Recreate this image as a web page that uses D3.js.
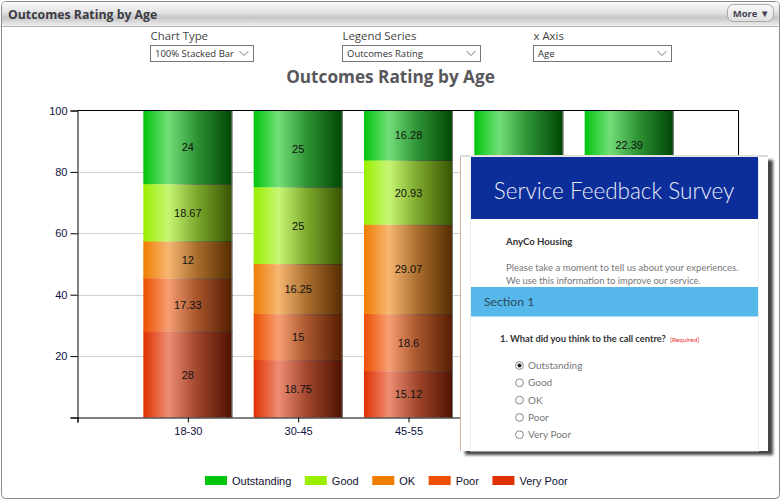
<!DOCTYPE html>
<html>
<head>
<meta charset="utf-8">
<script src="https://cdn.jsdelivr.net/npm/d3@7"></script>
<style>
    html, body { margin: 0; padding: 0; background: #fff; }
    svg { display: block; }
</style>
</head>
<body>
<div id="chart"></div>
<script>
const AGES = ['18-30', '30-45', '45-55', '55-65', '65+'];
const RATINGS = ['Very Poor', 'Poor', 'OK', 'Good', 'Outstanding'];
const LEGEND_ORDER = ['Outstanding', 'Good', 'OK', 'Poor', 'Very Poor'];
// last two columns sit behind the survey panel, so most of their values are estimates
const VERY_POOR = [28, 18.75, 15.12, 12, 14];
const POOR = [17.33, 15, 18.6, 15, 16];
const OK = [12, 16.25, 29.07, 22, 24];
const GOOD = [18.67, 25, 20.93, 19, 23.61];
const OUTSTANDING = [24, 25, 16.28, 32, 22.39];
const RATING_COLORS = ['#e03000', '#ee4f00', '#f07c00', '#9aee00', '#00c40c'];
const Y_TICKS = [0, 20, 40, 60, 80, 100];
const SURVEY_OPTIONS = ['Outstanding', 'Good', 'OK', 'Poor', 'Very Poor'];

const width = 781, height = 501;
const margin = { left: 77.5, right: 738.5, top: 110.5, bottom: 417.5 };
const panel = { x: 460, y: 155, w: 308, h: 296 };
const barWidth = 89;
const font = '"Liberation Sans", Arial, sans-serif';
const uiFont = '"Open Sans", sans-serif';
const surveyFont = 'Lato, sans-serif';

let svg = d3.select('#chart').append('svg').attr('width', width).attr('height', height);
let defs = svg.append('defs');

// one horizontal gradient per rating, the shiny bar look
RATINGS.forEach(function (r, i) {
    let base = RATING_COLORS[i];
    let grad = defs.append('linearGradient').attr('id', 'bar' + i);
    grad.append('stop').attr('offset', '0').attr('stop-color', base);
    grad.append('stop').attr('offset', '0.28').attr('stop-color', d3.interpolateRgb(base, '#fff')(0.45));
    grad.append('stop').attr('offset', '0.6').attr('stop-color', d3.interpolateRgb(d3.interpolateRgb(base, '#fff')(0.2), '#222')(0.35));
    grad.append('stop').attr('offset', '1').attr('stop-color', d3.interpolateRgb(base, '#000')(0.65));
    let edge = defs.append('linearGradient').attr('id', 'edge' + i);
    edge.append('stop').attr('offset', '0').attr('stop-color', base);
    edge.append('stop').attr('offset', '0.28').attr('stop-color', d3.interpolateRgb(base, '#fff')(0.6));
    edge.append('stop').attr('offset', '0.6').attr('stop-color', '#555');
    edge.append('stop').attr('offset', '1').attr('stop-color', '#222');
});

let headGrad = defs.append('linearGradient').attr('id', 'head').attr('x2', 0).attr('y2', 1);
headGrad.append('stop').attr('offset', '0').attr('stop-color', '#fbfbfb');
headGrad.append('stop').attr('offset', '0.45').attr('stop-color', '#e2e2e2');
headGrad.append('stop').attr('offset', '0.65').attr('stop-color', '#c6c6c6');
headGrad.append('stop').attr('offset', '1').attr('stop-color', '#efefef');

let btnGrad = defs.append('linearGradient').attr('id', 'btn').attr('x2', 0).attr('y2', 1);
btnGrad.append('stop').attr('offset', '0').attr('stop-color', '#fafafa');
btnGrad.append('stop').attr('offset', '1').attr('stop-color', '#dedede');

let shadow = defs.append('filter').attr('id', 'shadow')
    .attr('x', '-5%').attr('y', '-5%').attr('width', '112%').attr('height', '112%');
shadow.append('feGaussianBlur').attr('stdDeviation', 1.6);

// panel frame and header
svg.append('rect').attr('x', 1.5).attr('y', 1.5).attr('width', 778).attr('height', 497)
    .attr('rx', 4).attr('fill', '#fff').attr('stroke', '#8a8a8a');
svg.append('rect').attr('x', 2).attr('y', 2).attr('width', 777).attr('height', 24).attr('rx', 3)
    .attr('fill', 'url(#head)');
svg.append('line').attr('x1', 2).attr('x2', 779).attr('y1', 26.5).attr('y2', 26.5).attr('stroke', '#b4b4b4');
svg.append('text').text('Outcomes Rating by Age')
    .attr('x', 8).attr('y', 18.5)
    .attr('font-family', uiFont).attr('font-size', '12.3px').attr('font-weight', 'bold').attr('fill', '#3c3c44');

svg.append('rect').attr('x', 727.5).attr('y', 4.5).attr('width', 46).attr('height', 17).attr('rx', 6)
    .attr('fill', 'url(#btn)').attr('stroke', '#a8a8a8');
svg.append('text').text('More ▼')
    .attr('x', 751).attr('y', 17).attr('text-anchor', 'middle')
    .attr('font-family', uiFont).attr('font-size', '9.5px').attr('font-weight', 'bold').attr('fill', '#444455');

// dropdowns
const dropdowns = [
    { label: 'Chart Type', value: '100% Stacked Bar', x: 150.5, w: 103 },
    { label: 'Legend Series', value: 'Outcomes Rating', x: 342.5, w: 138 },
    { label: 'x Axis', value: 'Age', x: 533.5, w: 138 },
];
dropdowns.forEach(function (d) {
    svg.append('text').text(d.label)
        .attr('x', d.x).attr('y', 40)
        .attr('font-family', uiFont).attr('font-size', '11.4px').attr('fill', '#444');
    svg.append('rect').attr('x', d.x).attr('y', 45.5).attr('width', d.w).attr('height', 16)
        .attr('fill', '#fff').attr('stroke', '#777');
    svg.append('text').text(d.value)
        .attr('x', d.x + 4.5).attr('y', 57)
        .attr('font-family', uiFont).attr('font-size', '9.5px').attr('fill', '#333');
    svg.append('path')
        .attr('d', 'M' + (d.x + d.w - 14) + ',51 l4.5,4.5 l4.5,-4.5')
        .attr('fill', 'none').attr('stroke', '#777');
});

svg.append('text').text('Outcomes Rating by Age')
    .attr('x', 390.5).attr('y', 83).attr('text-anchor', 'middle')
    .attr('font-family', uiFont).attr('font-size', '17.2px').attr('font-weight', 'bold').attr('fill', '#58585c');

// scales: blank first and last slot leave the gap on either side of the bars
let x = d3.scalePoint().domain(['', ...AGES, ' ']).range([margin.left, margin.right + 1]);
let y = d3.scaleLinear().domain([0, 100]).range([margin.bottom, margin.top]);

// grid
svg.append('g').selectAll('line').data(Y_TICKS.slice(1, -1)).enter().append('line')
    .attr('x1', margin.left).attr('x2', margin.right)
    .attr('y1', function (d) { return Math.round(y(d)) + 0.5; })
    .attr('y2', function (d) { return Math.round(y(d)) + 0.5; })
    .attr('stroke', '#d0d0d0');

// stacked bars
let rows = AGES.map(function (age, i) {
    return {
        age: age,
        'Very Poor': VERY_POOR[i],
        'Poor': POOR[i],
        'OK': OK[i],
        'Good': GOOD[i],
        'Outstanding': OUTSTANDING[i],
    };
});
let stacked = d3.stack().keys(RATINGS)(rows);

let layers = svg.append('g').selectAll('g').data(stacked).enter().append('g');
layers.selectAll('rect').data(function (s) { return s; }).enter().append('rect')
    .attr('x', function (d) { return x(d.data.age) - barWidth / 2; })
    .attr('y', function (d) { return y(d[1]); })
    .attr('width', barWidth)
    .attr('height', function (d) { return y(d[0]) - y(d[1]); })
    .attr('fill', function () { return 'url(#bar' + RATINGS.indexOf(d3.select(this.parentNode).datum().key) + ')'; });
layers.selectAll('.edge').data(function (s) { return s; }).enter().append('rect')
    .attr('class', 'edge')
    .attr('x', function (d) { return x(d.data.age) - barWidth / 2; })
    .attr('y', function (d) { return y(d[1]) - 0.5; })
    .attr('width', barWidth)
    .attr('height', 1)
    .attr('fill', function () { return 'url(#edge' + RATINGS.indexOf(d3.select(this.parentNode).datum().key) + ')'; });
layers.selectAll('.side').data(function (s) { return s; }).enter().append('rect')
    .attr('class', 'side')
    .attr('x', function (d) { return x(d.data.age) + barWidth / 2 - 1; })
    .attr('y', function (d) { return y(d[1]); })
    .attr('width', 1)
    .attr('height', function (d) { return y(d[0]) - y(d[1]); })
    .attr('fill', '#777');

// no label for what the survey panel covers anyway
function labelVisible(d) {
    let ly = (y(d[0]) + y(d[1])) / 2;
    return !(x(d.data.age) > panel.x && ly > panel.y - 6);
}
layers.selectAll('text').data(function (s) { return s.filter(labelVisible); }).enter().append('text')
    .text(function (d) { return +(d[1] - d[0]).toFixed(2); })
    .attr('x', function (d) { return x(d.data.age); })
    .attr('y', function (d) { return (y(d[0]) + y(d[1])) / 2 + 4; })
    .attr('text-anchor', 'middle')
    .attr('font-family', font).attr('font-size', '11px').attr('fill', '#111');

// axes
let yAxis = svg.append('g').attr('transform', 'translate(' + margin.left + ',0)')
    .call(d3.axisLeft(y).tickValues(Y_TICKS).tickSize(7).tickPadding(3)
        .tickFormat(function (d) { return d === 0 ? '' : d; }));
let xAxis = svg.append('g').attr('transform', 'translate(0,' + margin.bottom + ')')
    .call(d3.axisBottom(x).tickSize(5).tickPadding(5)
        .tickFormat(function (d) { return x(d) > panel.x ? '' : d.trim(); }));
[yAxis, xAxis].forEach(function (a) {
    a.selectAll('text').attr('font-family', font).attr('font-size', '11px').attr('fill', '#101040');
    a.selectAll('line').attr('stroke', '#000');
    a.select('.domain').attr('stroke', '#000');
});
// plot box, top and right edges
svg.append('path')
    .attr('d', 'M' + margin.left + ',' + margin.top + 'H' + margin.right + 'V' + margin.bottom)
    .attr('fill', 'none').attr('stroke', '#000');

// legend, laid out from the measured text
let legendX = 205;
LEGEND_ORDER.forEach(function (name) {
    svg.append('rect').attr('x', legendX).attr('y', 476).attr('width', 22).attr('height', 9)
        .attr('fill', RATING_COLORS[RATINGS.indexOf(name)]);
    let t = svg.append('text').text(name)
        .attr('x', legendX + 27).attr('y', 485)
        .attr('font-family', font).attr('font-size', '11px').attr('fill', '#101030');
    legendX += 27 + t.node().getComputedTextLength() + 13.5;
});

// survey screenshot laid over the chart
let survey = svg.append('g');
survey.append('rect').attr('x', panel.x + 5).attr('y', panel.y + 5).attr('width', panel.w).attr('height', panel.h - 1)
    .attr('fill', '#444').attr('filter', 'url(#shadow)');
survey.append('rect').attr('x', panel.x).attr('y', panel.y).attr('width', panel.w).attr('height', panel.h).attr('fill', '#fff');
survey.append('rect').attr('x', panel.x).attr('y', panel.y).attr('width', 1).attr('height', panel.h).attr('fill', '#dcae92');
survey.append('rect').attr('x', panel.x).attr('y', panel.y).attr('width', panel.w).attr('height', 2).attr('fill', '#dcdcdc');
survey.append('rect').attr('x', 470.5).attr('y', 157).attr('width', 288).attr('height', 294)
    .attr('fill', 'none').attr('stroke', '#eeeeee');
survey.append('rect').attr('x', 471).attr('y', 157).attr('width', 287).attr('height', 62).attr('fill', '#0c2e9a');
survey.append('text').text('Service Feedback Survey')
    .attr('x', 614).attr('y', 199).attr('text-anchor', 'middle')
    .attr('font-family', surveyFont).attr('font-size', '22.5px').attr('font-weight', 300).attr('fill', '#e8ecf8');
survey.append('text').text('AnyCo Housing')
    .attr('x', 506).attr('y', 245)
    .attr('font-family', surveyFont).attr('font-size', '9.6px').attr('font-weight', 'bold').attr('fill', '#333');
survey.append('text').text('Please take a moment to tell us about your experiences.')
    .attr('x', 506).attr('y', 271)
    .attr('font-family', surveyFont).attr('font-size', '9.55px').attr('fill', '#777');
survey.append('text').text('We use this information to improve our service.')
    .attr('x', 506).attr('y', 284)
    .attr('font-family', surveyFont).attr('font-size', '9.4px').attr('fill', '#777');
survey.append('rect').attr('x', 471).attr('y', 287).attr('width', 287).attr('height', 29.5).attr('fill', '#56b8ea');
survey.append('text').text('Section 1')
    .attr('x', 484).attr('y', 306)
    .attr('font-family', surveyFont).attr('font-size', '12.2px').attr('fill', '#2c4a5c');
survey.append('text').text('1. What did you think to the call centre?')
    .attr('x', 500).attr('y', 342)
    .attr('font-family', surveyFont).attr('font-size', '9.4px').attr('font-weight', 'bold').attr('fill', '#333');
survey.append('text').text('[Required]')
    .attr('x', 670).attr('y', 342)
    .attr('font-family', surveyFont).attr('font-size', '6.5px').attr('fill', '#f03030');

let optionY = d3.scalePoint().domain(SURVEY_OPTIONS).range([365.5, 434.7]);
SURVEY_OPTIONS.forEach(function (opt, i) {
    survey.append('circle').attr('cx', 519.5).attr('cy', optionY(opt)).attr('r', 3.9)
        .attr('fill', '#fff').attr('stroke', '#888');
    if (i === 0) {
        survey.append('circle').attr('cx', 519.5).attr('cy', optionY(opt)).attr('r', 2).attr('fill', '#222');
    }
    survey.append('text').text(opt)
        .attr('x', 528).attr('y', optionY(opt) + 3.5)
        .attr('font-family', surveyFont).attr('font-size', '10px').attr('fill', '#777');
});
</script>
</body>
</html>
